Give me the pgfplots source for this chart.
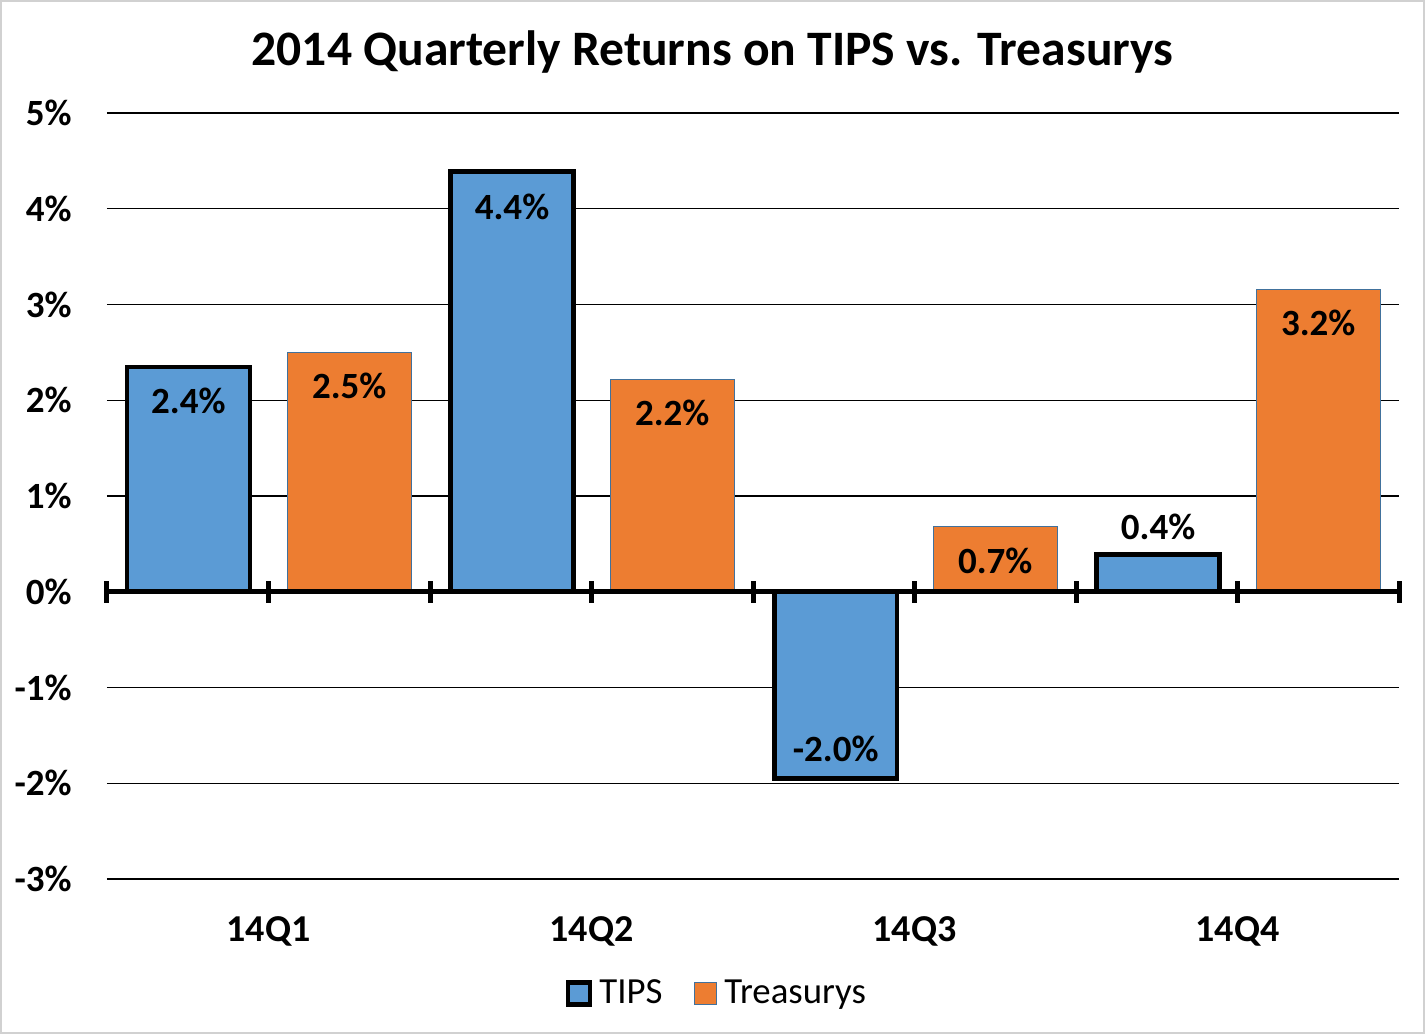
\documentclass[border=0pt]{standalone}
\usepackage{pgfplots}
\pgfplotsset{compat=1.18}
\usepackage{pgfplotstable}
\usepackage{fontspec}
\setmainfont{Carlito}
\definecolor{tipsblue}{HTML}{5B9BD5}
\definecolor{tsyorange}{HTML}{ED7D31}
\definecolor{tsyedge}{HTML}{41719C}
\pgfplotstableread{
x y lab dy
0.252 2.35 2.4 -17
1.254 4.39 4.4 -17.5
2.256 -1.95 -2.0 15
3.254 0.39 0.4 14
}\tips
\pgfplotstableread{
x y lab dy
0.75 2.50 2.5 -17
1.75 2.22 2.2 -17
2.75 0.68 0.7 -17
3.75 3.16 3.2 -17
}\tsy
\newcommand{\lblfont}{\fontsize{18.5}{20}\selectfont\bfseries}
\begin{document}
\begin{tikzpicture}
\useasboundingbox (-53.5pt,-77.5pt) rectangle (659pt,439.5pt);
\draw[black!18, line width=0.8pt] (-53pt,-77pt) rectangle (658.5pt,439pt);
\begin{axis}[
  at={(0,0)}, anchor=south west, scale only axis,
  width=646pt, height=383pt,
  xmin=0, xmax=4, ymin=-3, ymax=5,
  axis line style={draw=none},
  major tick length=0pt, tick style={draw=none},
  ytick={-3,-2,-1,0,1,2,3,4,5},
  yticklabels={-3\%,-2\%,-1\%,0\%,1\%,2\%,3\%,4\%,5\%},
  yticklabel style={anchor=east, inner sep=0pt, xshift=-17.5pt, font=\lblfont},
  xtick={0.5,1.5,2.5,3.5},
  xticklabels={14Q1,14Q2,14Q3,14Q4},
  xticklabel style={anchor=center, inner sep=0pt, yshift=-26pt, font=\fontsize{19}{21}\selectfont\bfseries},
  ymajorgrids, grid style={black, line width=0.6pt},
  title={2014 Quarterly Returns on TIPS vs. Treasurys},
  title style={at={(0.4687,1.0637)}, anchor=center, inner sep=0pt, font=\fontsize{24.8}{28}\selectfont\bfseries},
  legend columns=2,
  legend style={at={(0.474,-0.1495)}, anchor=center, draw=none, fill=none,
    font=\fontsize{18.4}{20}\selectfont, inner sep=0pt,
    /tikz/every even column/.append style={column sep=12.5pt},
    nodes={inner xsep=3.5pt}},
]
\addplot[ybar, bar width=0.38, bar shift=0pt, fill=tipsblue, draw=black, line width=2.2pt,
  legend image code/.code={\draw[fill=tipsblue, draw=black, line width=2.2pt] (0pt,-5.5pt) rectangle (11pt,5.5pt);},
  point meta=explicit symbolic,
  nodes near coords={\pgfplotspointmeta\%},
  visualization depends on={\thisrow{dy} \as \dy},
  every node near coord/.append style={anchor=center, yshift=\dy pt, font=\lblfont, text=black}]
  table[x=x, y=y, meta=lab] {\tips};
\addlegendentry{TIPS}
\addplot[ybar, bar width=0.383, bar shift=0pt, fill=tsyorange, draw=tsyedge, line width=0.5pt,
  legend image code/.code={\draw[fill=tsyorange, draw=tsyedge, line width=0.5pt] (0pt,-5.5pt) rectangle (11pt,5.5pt);},
  point meta=explicit symbolic,
  nodes near coords={\pgfplotspointmeta\%},
  visualization depends on={\thisrow{dy} \as \dy},
  every node near coord/.append style={anchor=center, yshift=\dy pt, font=\lblfont, text=black}]
  table[x=x, y=y, meta=lab] {\tsy};
\addlegendentry{Treasurys}
\end{axis}
\begin{axis}[
  at={(0,0)}, anchor=south west, scale only axis,
  width=646pt, height=383pt,
  xmin=0, xmax=4, ymin=-3, ymax=5,
  axis x line=middle, axis y line=none,
  axis line style={-, line width=2.5pt, black},
  xtick={0,0.5,1,1.5,2,2.5,3,3.5,4}, xticklabels={},
  ytick=\empty,
  tick align=center, major tick length=11pt,
  tick style={line width=2.5pt, black},
]
\addplot[draw=none] coordinates {(0,0) (4,0)};
\end{axis}
\end{tikzpicture}
\end{document}
